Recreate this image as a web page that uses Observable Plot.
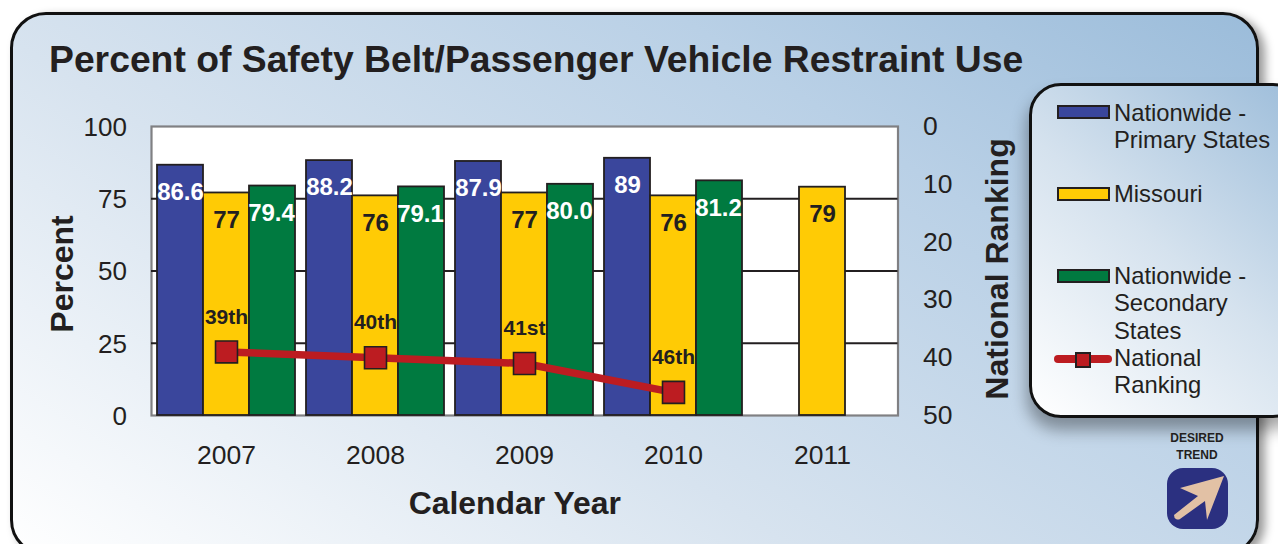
<!DOCTYPE html>
<html>
<head>
<meta charset="utf-8">
<script src="https://cdn.jsdelivr.net/npm/d3@7"></script>
<script src="https://cdn.jsdelivr.net/npm/@observablehq/plot@0.6"></script>
<style>
html,body{margin:0;padding:0;background:#fff;width:1278px;height:544px;overflow:hidden;font-family:"Liberation Sans",Arial,sans-serif;color:#231f20}
#panel{position:absolute;left:10px;top:12px;width:1243px;height:538px;border:3px solid #111;border-radius:36px;box-shadow:6px 4px 10px rgba(0,0,0,.4);
background:linear-gradient(33deg,#ffffff 0%,#d7e3ef 38%,#b9d0e6 72%,#9bbcda 100%)}
h1{position:absolute;left:49px;top:38px;margin:0;font-size:37.3px;line-height:42px;font-weight:700;white-space:nowrap;color:#231f20}
#chart{position:absolute;left:0;top:0}
#legend{position:absolute;left:1029px;top:83px;width:270px;height:329px;border:3px solid #111;border-radius:32px;box-shadow:-2px 12px 16px rgba(0,0,0,.35);
background:linear-gradient(40deg,#ffffff 0%,#d5e2ee 50%,#9dbdda 100%)}
.li{position:absolute;left:1114px;font-size:23.8px;line-height:27.3px;white-space:nowrap}
.sw{position:absolute;left:1057px;width:49px;height:10px;border:2px solid #231f20}
#trend{position:absolute;left:1147px;top:430px;width:100px;text-align:center;font-size:12px;line-height:17px;font-weight:700}
#icon{position:absolute;left:1167px;top:468px}
</style>
</head>
<body>
<div id="panel"></div>
<h1>Percent of Safety Belt/Passenger Vehicle Restraint Use</h1>
<div id="chart"></div>
<div id="legend"></div>
<div class="sw" style="top:105px;background:#3a469c"></div>
<div class="li" style="top:99px">Nationwide -<br>Primary States</div>
<div class="sw" style="top:187px;background:#ffcb05"></div>
<div class="li" style="top:180px">Missouri</div>
<div class="sw" style="top:269px;background:#007a40"></div>
<div class="li" style="top:262px">Nationwide -<br>Secondary<br>States</div>
<div style="position:absolute;left:1054px;top:355px;width:58px;height:8px;border-radius:4px;background:#bc1c21"></div>
<div style="position:absolute;left:1075px;top:352px;width:12px;height:12px;background:#bc1c21;border:2px solid #231f20"></div>
<div class="li" style="top:344px">National<br>Ranking</div>
<div id="trend">DESIRED<br>TREND</div>
<svg id="icon" width="62" height="62" viewBox="0 0 62 62">
<rect x="0" y="0" width="61" height="61" rx="16" fill="#2b3080"/>
<path d="M57 8 L13 20 L31 28 L7 47 Q7 50 9 51 Q11 52 13 51 L38 33 L40 52 Z" fill="#e2c1a5"/>
</svg>
<script>
const years = ["2007","2008","2009","2010","2011"];
const primaryYears = ["2007","2008","2009","2010"];
const primaryValues = [86.6,88.2,87.9,89];
const missouriYears = ["2007","2008","2009","2010","2011"];
const missouriValues = [77,76,77,76,79];
const secondaryYears = ["2007","2008","2009","2010"];
const secondaryValues = [79.4,79.1,80.0,81.2];
const secondaryLabels = ["79.4","79.1","80.0","81.2"];
const rankYears = ["2007","2008","2009","2010"];
const rankValues = [39,40,41,46];
const rankLabels = ["39th","40th","41st","46th"];
const percentTicks = [0,25,50,75,100];
const rankTicks = [0,10,20,30,40,50];

const rows = (xs, vs, ls) => xs.map((x,i)=>({x, v:vs[i], l:ls ? ls[i] : String(vs[i])}));
const primary = rows(primaryYears, primaryValues);
const missouri = rows(missouriYears, missouriValues);
const secondary = rows(secondaryYears, secondaryValues, secondaryLabels);
const rank = rows(rankYears, rankValues, rankLabels);
const rankToY = r => 100 - 2*r;

const ink = "#231f20";
const barW = 46;
const barOpts = {x:"x", y:"v", stroke:ink, strokeWidth:1.8};
const labOpts = {x:"x", y:"v", text:"l", dy:27, fontSize:24, fontWeight:700};
const sans = '"Liberation Sans",Arial,sans-serif';

const plot = Plot.plot({
  width:1278, height:544,
  marginLeft:151, marginRight:380.5, marginTop:126, marginBottom:129,
  style:{background:"transparent", fontFamily:sans, color:ink, overflow:"visible"},
  x:{type:"band", domain:years, paddingInner:0.6917, paddingOuter:0.3458, label:null},
  y:{domain:[0,100], label:null},
  marks:[
    Plot.frame({fill:"#fff", stroke:"#808083", strokeWidth:2.2}),
    Plot.ruleY([25,50,75], {stroke:"#231f20", strokeWidth:2}),
    Plot.axisY({ticks:percentTicks, tickSize:0, tickPadding:24.5, fontSize:26, label:null, dy:1}),
    Plot.axisY({anchor:"right", ticks:rankTicks.map(rankToY), tickFormat:d=>(100-d)/2, tickSize:0, tickPadding:25, fontSize:26.5, label:null, textAnchor:"start"}),
    Plot.axisX({tickSize:0, tickPadding:30, fontSize:26.5, label:null}),
    Plot.barY(primary, {...barOpts, fill:"#3a469c", dx:-barW}),
    Plot.barY(missouri, {...barOpts, fill:"#ffcb05"}),
    Plot.barY(secondary, {...barOpts, fill:"#007a40", dx:barW}),
    Plot.text(primary, {...labOpts, fill:"#fff", dx:-barW}),
    Plot.text(missouri, {...labOpts, fill:ink}),
    Plot.text(secondary, {...labOpts, fill:"#fff", dx:barW-1}),
    Plot.line(rank, {x:"x", y:d=>rankToY(d.v), stroke:"#bc1c21", strokeWidth:7.5}),
    Plot.dot(rank, {x:"x", y:d=>rankToY(d.v), symbol:"square", r:12.4, fill:"#bc1c21", stroke:ink, strokeWidth:1.6}),
    Plot.text(rank, {x:"x", y:d=>rankToY(d.v), text:"l", dy:-35, fontSize:21, fontWeight:700, fill:ink}),
    Plot.text(["Percent"], {frameAnchor:"left", textAnchor:"middle", dx:-89, dy:3, rotate:-90, fontSize:32, fontWeight:700, fill:ink}),
    Plot.text(["National Ranking"], {frameAnchor:"right", textAnchor:"middle", dx:100, dy:-2, rotate:-90, fontSize:32, fontWeight:700, fill:ink}),
    Plot.text(["Calendar Year"], {frameAnchor:"bottom", dy:98, dx:-10, fontSize:31.9, fontWeight:700, fill:ink})
  ]
});
document.getElementById("chart").appendChild(plot);
</script>
</body>
</html>
